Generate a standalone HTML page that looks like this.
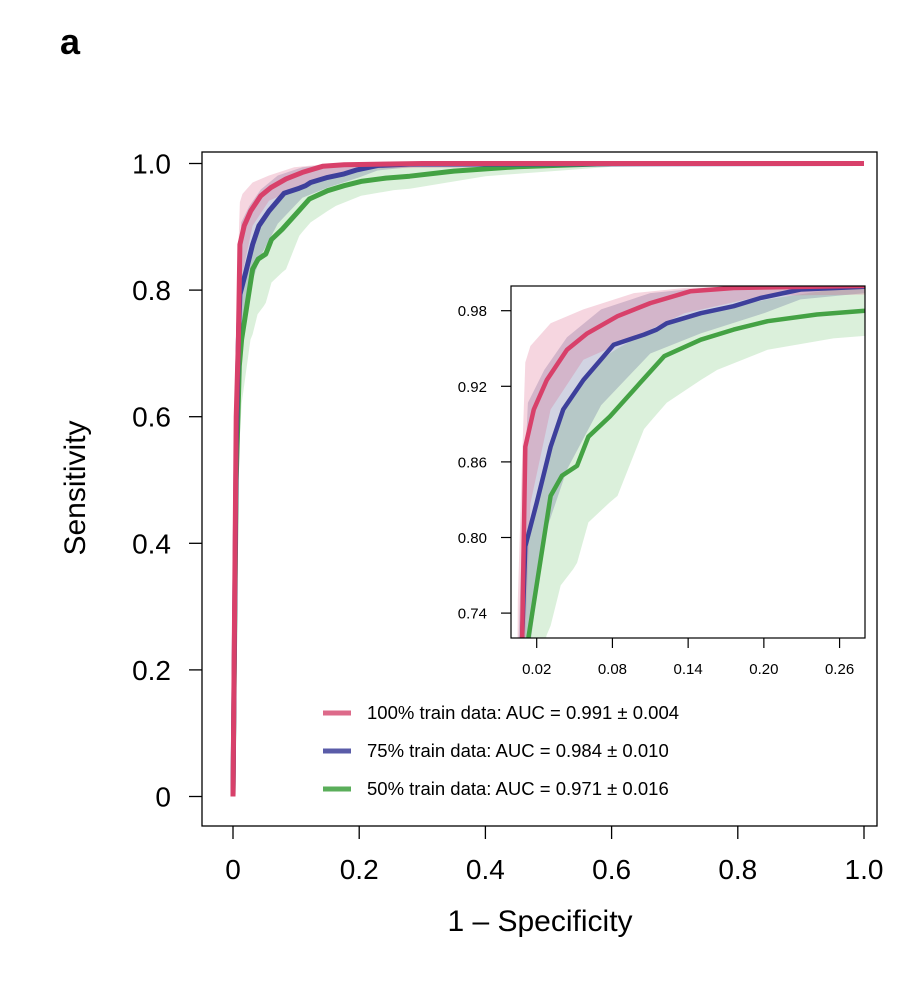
<!DOCTYPE html>
<html><head><meta charset="utf-8"><style>
html,body{margin:0;padding:0;background:#fff;width:918px;height:982px;overflow:hidden;}
svg{display:block;position:absolute;left:0;top:0;font-family:"Liberation Sans",Arial,sans-serif;}
</style></head><body>
<svg id="chart" width="918" height="982" viewBox="0 0 918 982" xmlns="http://www.w3.org/2000/svg">
<defs>
<clipPath id="mainClip"><rect x="202" y="152" width="675" height="674"/></clipPath>
<clipPath id="insetClip"><rect x="511" y="286" width="354" height="352"/></clipPath>
</defs>
<text x="60" y="54" font-size="36" font-weight="bold">a</text>
<rect x="202" y="152" width="675" height="674" fill="none" stroke="#000" stroke-width="1.3"/>
<g id="mainAxes"></g>
<g id="mainMarks" clip-path="url(#mainClip)"></g>
<rect x="511" y="286" width="354" height="352" fill="#fff"/>
<g id="insetMarks" clip-path="url(#insetClip)"></g>
<rect x="511" y="286" width="354" height="352" fill="none" stroke="#000" stroke-width="1.2"/>
<g id="insetAxes"></g>
<text x="540" y="931" font-size="30" text-anchor="middle">1 – Specificity</text>
<text x="0" y="0" font-size="30" text-anchor="middle" transform="translate(85,488) rotate(-90)">Sensitivity</text>
<g id="legend"></g>
</svg>
<script>
const seriesNames = ["100% train data: AUC = 0.991 \u00b1 0.004","75% train data: AUC = 0.984 \u00b1 0.010","50% train data: AUC = 0.971 \u00b1 0.016"];
const mainXTicks = [0,0.2,0.4,0.6,0.8,1.0];
const mainXTickLabels = ["0","0.2","0.4","0.6","0.8","1.0"];
const mainYTicks = [0,0.2,0.4,0.6,0.8,1.0];
const mainYTickLabels = ["0","0.2","0.4","0.6","0.8","1.0"];
const insetXTicks = [0.02,0.08,0.14,0.20,0.26];
const insetXTickLabels = ["0.02","0.08","0.14","0.20","0.26"];
const insetYTicks = [0.74,0.80,0.86,0.92,0.98];
const insetYTickLabels = ["0.74","0.80","0.86","0.92","0.98"];

const redX = [0,0.005,0.0085,0.011,0.0177,0.028,0.044,0.060,0.084,0.110,0.142,0.176,0.3,1.0];
const redY = [0,0.6,0.722,0.872,0.9016,0.925,0.949,0.962,0.9756,0.986,0.9955,0.998,1.0,1.0];
const redBandX = [0,0.005,0.008,0.011,0.015,0.031,0.057,0.097,0.137,0.2,1.0];
const redBandUpper = [0,0.75,0.85,0.939,0.952,0.970,0.981,0.994,0.998,1.0,1.0];
const redBandLower = [0,0.45,0.6,0.72,0.827,0.9016,0.941,0.959,0.978,0.992,1.0];

const blueX = [0,0.005,0.0085,0.011,0.020,0.031,0.041,0.057,0.081,0.105,0.115,0.123,0.150,0.176,0.197,0.229,0.28,1.0];
const blueY = [0,0.55,0.722,0.793,0.8275,0.872,0.9016,0.925,0.953,0.961,0.965,0.970,0.978,0.9836,0.990,0.9968,0.999,1.0];
const blueBandX = [0,0.005,0.009,0.013,0.026,0.044,0.071,0.110,0.150,0.2,0.229,0.28,0.35,1.0];
const blueBandUpper = [0,0.7,0.82,0.907,0.933,0.959,0.981,0.994,0.998,1.0,1.0,1.0,1.0,1.0];
const blueBandLower = [0,0.4,0.6,0.7,0.801,0.854,0.905,0.946,0.962,0.978,0.989,0.994,0.999,1.0];

const greenX = [0,0.005,0.01,0.0137,0.031,0.040,0.052,0.061,0.078,0.102,0.121,0.150,0.176,0.203,0.242,0.280,0.35,0.45,0.6,1.0];
const greenY = [0,0.5,0.68,0.722,0.833,0.849,0.857,0.880,0.896,0.9228,0.9439,0.957,0.965,0.9717,0.977,0.980,0.988,0.995,1.0,1.0];
const greenBandX = [0,0.005,0.01,0.0137,0.0277,0.031,0.039,0.049,0.052,0.061,0.078,0.084,0.105,0.110,0.123,0.150,0.163,0.203,0.255,0.28,0.4,0.6,1.0];
const greenBandUpper = [0,0.62,0.75,0.801,0.86,0.875,0.895,0.912,0.918,0.93,0.946,0.95,0.962,0.965,0.97,0.978,0.981,0.989,0.997,0.999,1.0,1.0,1.0];
const greenBandLower = [0,0.35,0.55,0.62,0.722,0.73,0.762,0.775,0.780,0.812,0.828,0.833,0.886,0.892,0.907,0.925,0.933,0.949,0.958,0.960,0.98,0.995,1.0];

const NS = "http://www.w3.org/2000/svg";
function mk(tag, attrs, parent){const e=document.createElementNS(NS,tag);for(const k in attrs)e.setAttribute(k,attrs[k]);parent.appendChild(e);return e;}

const mainX = v => 233 + v*631;
const mainY = v => 796.5 - v*633;
const inX = v => 536.7 + (v-0.02)*1262;
const inY = v => 310.7 - (v-0.98)*1260;

const series = [
 {key:"green", x:greenX, y:greenY, bx:greenBandX, bu:greenBandUpper, bl:greenBandLower, line:"#44a244", fill:"rgba(90,185,90,0.22)"},
 {key:"blue", x:blueX, y:blueY, bx:blueBandX, bu:blueBandUpper, bl:blueBandLower, line:"#3d3f9b", fill:"rgba(70,80,140,0.25)"},
 {key:"red", x:redX, y:redY, bx:redBandX, bu:redBandUpper, bl:redBandLower, line:"#d8406a", fill:"rgba(220,90,130,0.25)"}
];

function drawMarks(g, sx, sy, prefix, w){
  series.forEach(s=>{
    let d="";
    s.bx.forEach((v,i)=>{d+=(i?"L":"M")+sx(v).toFixed(1)+","+sy(s.bu[i]).toFixed(1);});
    for(let i=s.bx.length-1;i>=0;i--) d+="L"+sx(s.bx[i]).toFixed(1)+","+sy(s.bl[i]).toFixed(1);
    const b=mk("path",{d:d+"Z",fill:s.fill,stroke:"none"},g);
    
    
  });
  series.forEach(s=>{
    let d="";
    s.x.forEach((v,i)=>{d+=(i?"L":"M")+sx(v).toFixed(1)+","+sy(s.y[i]).toFixed(1);});
    const l=mk("path",{d:d,fill:"none",stroke:s.line,"stroke-width":w,"stroke-linejoin":"round","stroke-linecap":"butt"},g);
    
    
  });
}
drawMarks(document.getElementById("mainMarks"), mainX, mainY, "main", 5);
drawMarks(document.getElementById("insetMarks"), inX, inY, "inset", 4.5);

const ma=document.getElementById("mainAxes");
mainXTicks.forEach((v,i)=>{
  const t=mk("line",{x1:mainX(v),x2:mainX(v),y1:826,y2:839,stroke:"#000","stroke-width":1.3},ma);
  
  
  const tx=mk("text",{x:mainX(v),y:879,"font-size":28,"text-anchor":"middle"},ma);
  tx.textContent=mainXTickLabels[i];
  
  
});
mainYTicks.forEach((v,i)=>{
  const t=mk("line",{x1:189,x2:202,y1:mainY(v),y2:mainY(v),stroke:"#000","stroke-width":1.3},ma);
  
  
  const tx=mk("text",{x:171,y:mainY(v)+10,"font-size":28,"text-anchor":"end"},ma);
  tx.textContent=mainYTickLabels[i];
  
  
});
const ia=document.getElementById("insetAxes");
insetXTicks.forEach((v,i)=>{
  const t=mk("line",{x1:inX(v),x2:inX(v),y1:638,y2:648,stroke:"#000","stroke-width":1.2},ia);
  
  
  const tx=mk("text",{x:inX(v),y:674,"font-size":15,"text-anchor":"middle"},ia);
  tx.textContent=insetXTickLabels[i];
  
  
});
insetYTicks.forEach((v,i)=>{
  const t=mk("line",{x1:501,x2:511,y1:inY(v),y2:inY(v),stroke:"#000","stroke-width":1.2},ia);
  
  
  const tx=mk("text",{x:487,y:inY(v)+5.5,"font-size":15,"text-anchor":"end"},ia);
  tx.textContent=insetYTickLabels[i];
  
  
});

const lg=document.getElementById("legend");
const legendColors=["#dd6a8a","#5a5ca8","#5aae5a"];
const legendKeys=["100","75","50"];
seriesNames.forEach((n,i)=>{
  const y=713+i*38;
  const l=mk("line",{x1:323,x2:351,y1:y,y2:y,stroke:legendColors[i],"stroke-width":5},lg);
  
  
  const t=mk("text",{x:367,y:y+6,"font-size":18.5},lg);
  t.textContent=n;
  
  
});
</script>
</body></html>
